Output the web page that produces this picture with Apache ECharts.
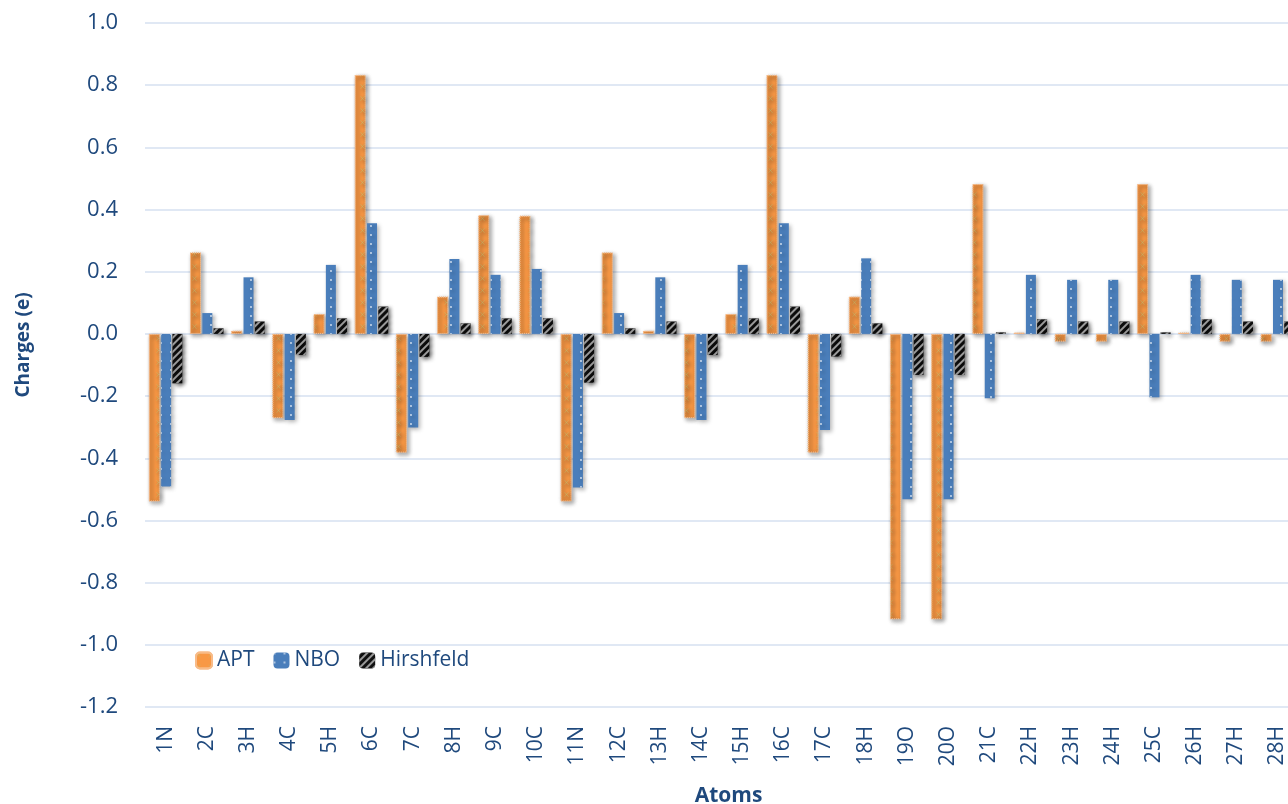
<!DOCTYPE html>
<html>
<head>
<meta charset="utf-8">
<script src="https://cdn.jsdelivr.net/npm/echarts@6/dist/echarts.min.js"></script>
<style>
html,body{margin:0;padding:0;background:#fff;}
#chart{width:1288px;height:804px;}
</style>
</head>
<body>
<div id="chart"></div>
<script>
const categories = ['1N','2C','3H','4C','5H','6C','7C','8H','9C','10C','11N','12C','13H','14C','15H','16C','17C','18H','19O','20O','21C','22H','23H','24H','25C','26H','27H','28H'];
const aptValues = [-0.539, 0.262, 0.010, -0.271, 0.064, 0.833, -0.382, 0.120, 0.382, 0.380, -0.539, 0.262, 0.010, -0.271, 0.064, 0.833, -0.382, 0.120, -0.918, -0.918, 0.482, 0.004, -0.025, -0.025, 0.482, 0.004, -0.025, -0.025];
const nboValues = [-0.491, 0.067, 0.182, -0.277, 0.222, 0.356, -0.301, 0.241, 0.190, 0.209, -0.494, 0.067, 0.182, -0.277, 0.222, 0.356, -0.309, 0.243, -0.532, -0.532, -0.207, 0.190, 0.174, 0.174, -0.204, 0.190, 0.174, 0.174];
const hirshfeldValues = [-0.159, 0.018, 0.040, -0.068, 0.050, 0.088, -0.074, 0.034, 0.050, 0.050, -0.157, 0.018, 0.040, -0.068, 0.050, 0.088, -0.073, 0.034, -0.132, -0.132, 0.005, 0.047, 0.040, 0.040, 0.005, 0.047, 0.040, 0.040];
const seriesNames = ['APT', 'NBO', 'Hirshfeld'];

const textColor = '#1F497D';
const fontFam = '"Open Sans", "Noto Sans", sans-serif';
const shadow = {shadowBlur: 4, shadowColor: 'rgba(0,0,0,0.28)', shadowOffsetX: 2, shadowOffsetY: 2};

const chart = echarts.init(document.getElementById('chart'), null, {renderer: 'canvas'});
chart.setOption({
  animation: false,
  backgroundColor: '#ffffff',
  textStyle: {fontFamily: fontFam},
  grid: {left: 145, right: -10, top: 23, bottom: 97, containLabel: false, outerBoundsMode: 'none'},
  legend: {
    left: 190, top: 645,
    itemWidth: 16, itemHeight: 16, itemGap: 19,
    textStyle: {color: textColor, fontSize: 21, fontFamily: fontFam},
    data: seriesNames
  },
  xAxis: {
    type: 'category',
    data: categories,
    name: 'Atoms',
    nameLocation: 'middle',
    nameGap: 79,
    nameTextStyle: {color: textColor, fontSize: 21, fontWeight: 'bold', fontFamily: fontFam, padding: [0, 0, 0, 14]},
    axisLine: {show: false},
    axisTick: {show: false},
    axisLabel: {rotate: 90, color: textColor, fontSize: 21, margin: 19, interval: 0, fontFamily: fontFam}
  },
  yAxis: {
    type: 'value',
    min: -1.2, max: 1.0, interval: 0.2,
    name: 'Charges (e)',
    nameLocation: 'middle',
    nameGap: 112,
    nameTextStyle: {color: textColor, fontSize: 19, fontWeight: 'bold', fontFamily: fontFam, padding: [0, 0, 0, 40]},
    axisLine: {show: false},
    axisTick: {show: false},
    axisLabel: {color: textColor, fontSize: 22, margin: 27, fontFamily: fontFam,
      formatter: v => (Math.abs(v) < 1e-9 ? 0 : v).toFixed(1)},
    splitLine: {lineStyle: {color: '#d6e0f0', width: 1.5}}
  },
  series: [
    {
      name: 'APT', type: 'bar', data: aptValues, barWidth: 11,
      itemStyle: Object.assign({
        color: '#F89845',
        borderColor: '#f8bb88', borderWidth: 1, borderType: 'dotted',
        decal: {symbol: 'path://M0,0 L1.2,0 L5,4.2 L8.8,0 L10,0 L5.6,5 L10,10 L8.8,10 L5,5.8 L1.2,10 L0,10 L4.4,5 Z',
          color: '#c9bd6e', dashArrayX: [5, 7], dashArrayY: [5, 7], symbolSize: 0.9}
      }, shadow)
    },
    {
      name: 'NBO', type: 'bar', data: nboValues, barWidth: 10,
      itemStyle: Object.assign({
        color: '#4A7EBB',
        decal: {symbol: 'circle', color: 'rgba(255,255,255,0.8)', dashArrayX: [2, 8], dashArrayY: [2, 7], symbolSize: 0.9}
      }, shadow)
    },
    {
      name: 'Hirshfeld', type: 'bar', data: hirshfeldValues, barWidth: 10, barGap: '12%',
      itemStyle: Object.assign({
        color: '#111111',
        decal: {symbol: 'rect', color: '#9a9a9a', rotation: -Math.PI / 4, dashArrayX: [1, 0], dashArrayY: [2, 3], symbolSize: 1}
      }, shadow)
    }
  ]
});
</script>
</body>
</html>
